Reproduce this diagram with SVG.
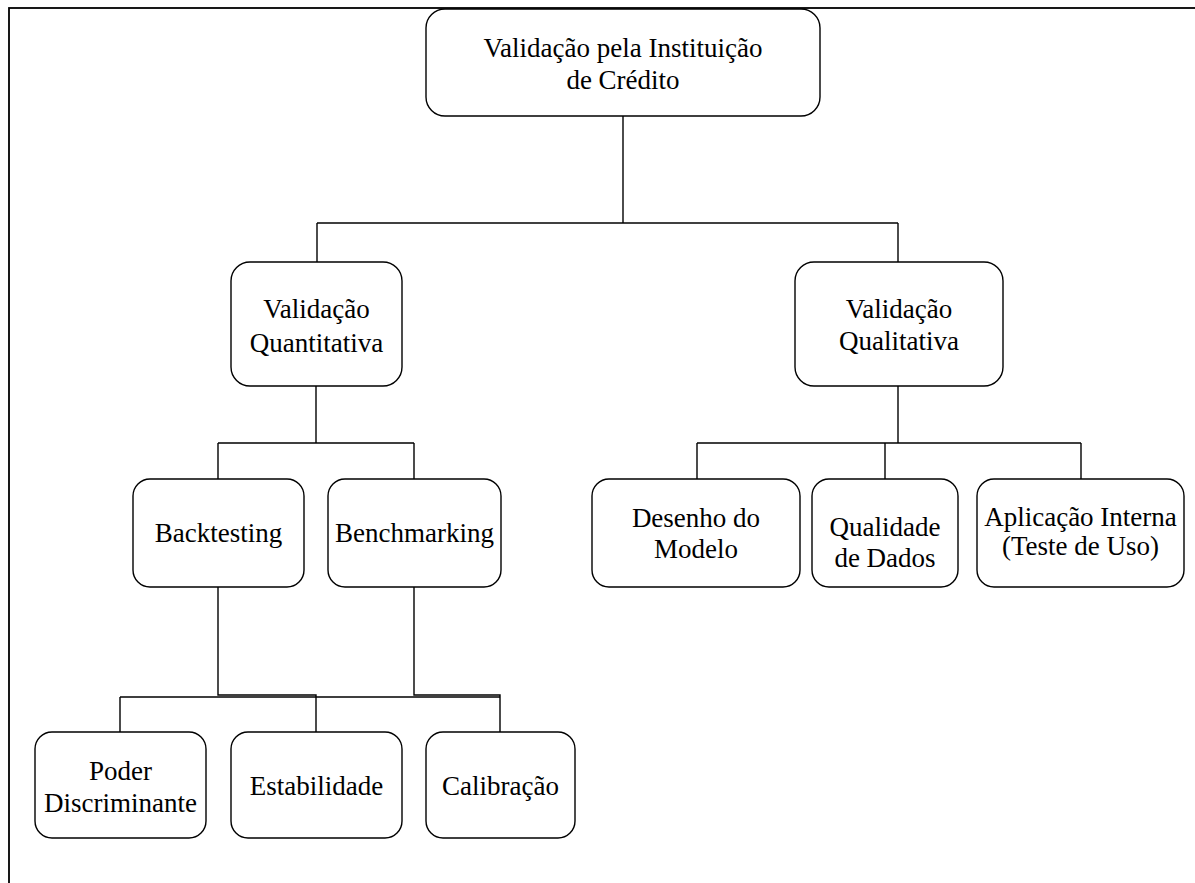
<svg xmlns="http://www.w3.org/2000/svg" width="1195" height="883" viewBox="0 0 1195 883">
<style>
.box{fill:#fff;stroke:#000;stroke-width:1.4}
.ln{fill:none;stroke:#000;stroke-width:1.4}
.t{font-family:"Liberation Serif","Times New Roman",serif;font-size:27px;fill:#000;text-anchor:middle}
</style>
<rect x="0" y="0" width="1195" height="883" fill="#fff"/>
<rect x="9" y="8" width="1200" height="900" fill="none" stroke="#000" stroke-width="1.8"/>
<g id="connectors">
<path class="ln" d="M623,116 V223"/>
<path class="ln" d="M317,223 H898"/>
<path class="ln" d="M317,223 V262"/>
<path class="ln" d="M898,223 V262"/>
<path class="ln" d="M316,386 V443"/>
<path class="ln" d="M218,443 H414 M218,443 V479 M414,443 V479"/>
<path class="ln" d="M898,386 V443"/>
<path class="ln" d="M697,443 H1081 M697,443 V479 M885,443 V479 M1081,443 V479"/>
<path class="ln" d="M218,587 V695 H316 V732"/>
<path class="ln" d="M414,587 V695 H500 V732"/>
<path class="ln" d="M120,697 H500 M120,697 V732"/>
</g>
<g id="n-top"><rect class="box" x="426" y="9" width="394" height="107" rx="19"/><text class="t" x="623" y="57">Validação pela Instituição</text><text class="t" x="623" y="89">de Crédito</text></g>
<g id="n-quant"><rect class="box" x="231" y="262" width="171" height="124" rx="19"/><text class="t" x="316.5" y="318">Validação</text><text class="t" x="316.5" y="352">Quantitativa</text></g>
<g id="n-qual"><rect class="box" x="795" y="262" width="208" height="124" rx="19"/><text class="t" x="899" y="318">Validação</text><text class="t" x="899" y="350">Qualitativa</text></g>
<g id="n-backtesting"><rect class="box" x="133" y="479" width="171" height="108" rx="17"/><text class="t" x="218.5" y="542">Backtesting</text></g>
<g id="n-benchmarking"><rect class="box" x="328" y="479" width="173" height="108" rx="17"/><text class="t" x="414.5" y="542">Benchmarking</text></g>
<g id="n-desenho"><rect class="box" x="592" y="479" width="208" height="108" rx="17"/><text class="t" x="696" y="527">Desenho do</text><text class="t" x="696" y="558">Modelo</text></g>
<g id="n-qualidade"><rect class="box" x="812" y="479" width="146" height="108" rx="17"/><text class="t" x="885" y="536">Qualidade</text><text class="t" x="885" y="567">de Dados</text></g>
<g id="n-aplicacao"><rect class="box" x="977" y="479" width="207" height="108" rx="17"/><text class="t" x="1080.5" y="526">Aplicação Interna</text><text class="t" x="1080.5" y="555">(Teste de Uso)</text></g>
<g id="n-poder"><rect class="box" x="35" y="732" width="171" height="106" rx="17"/><text class="t" x="120.5" y="780">Poder</text><text class="t" x="120.5" y="812">Discriminante</text></g>
<g id="n-estabilidade"><rect class="box" x="231" y="732" width="171" height="106" rx="17"/><text class="t" x="316.5" y="795">Estabilidade</text></g>
<g id="n-calibracao"><rect class="box" x="426" y="732" width="149" height="106" rx="17"/><text class="t" x="500.5" y="795">Calibração</text></g>
</svg>
